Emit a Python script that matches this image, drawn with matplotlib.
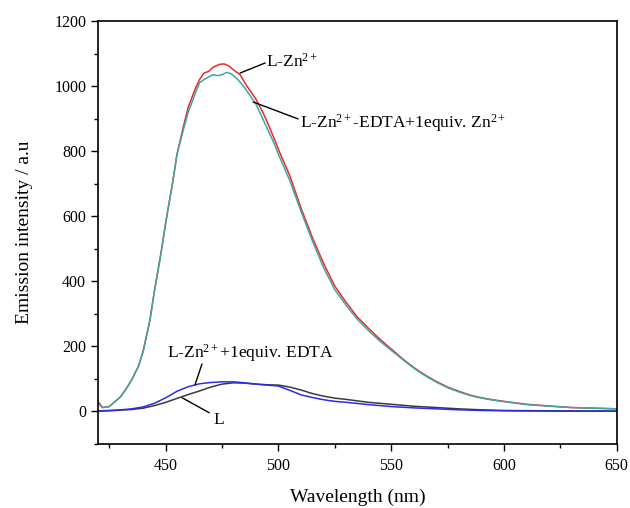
import matplotlib
matplotlib.use("Agg")
import matplotlib.pyplot as plt
from matplotlib.ticker import MultipleLocator

plt.rcParams['font.family'] = ['Liberation Serif', 'DejaVu Serif']
plt.rcParams['mathtext.fontset'] = 'custom'
plt.rcParams['mathtext.rm'] = 'Liberation Serif'
plt.rcParams['mathtext.it'] = 'Liberation Serif:italic'
plt.rcParams['mathtext.bf'] = 'Liberation Serif:bold'

# L-Zn2+ (red)
wl_red = [420, 422, 425, 428, 430, 433, 435, 438, 440, 443, 445, 448, 450, 453, 455, 458,
          460, 463, 465, 467, 469, 471, 474, 476, 478, 480, 483, 486, 490, 493, 495, 498,
          500, 505, 510, 515, 520, 525, 530, 535, 540, 545, 550, 555, 560, 565, 570, 575,
          580, 585, 590, 595, 600, 610, 620, 630, 640, 650]
int_red = [30, 12, 15, 33, 45, 75, 98, 140, 185, 280, 370, 490, 580, 700, 790, 880,
           935, 990, 1020, 1040, 1045, 1058, 1067, 1068, 1062, 1050, 1035, 1000, 960, 920, 890, 840,
           805, 725, 625, 535, 455, 385, 335, 290, 255, 222, 192, 162, 135, 112, 92, 75,
           62, 50, 42, 36, 31, 22, 17, 12, 10, 8]

# L-Zn2+-EDTA+1equiv. Zn2+ (teal)
wl_teal = [420, 422, 425, 428, 430, 433, 435, 438, 440, 443, 445, 448, 450, 453, 455, 458,
           460, 463, 465, 467, 469, 471, 473, 475, 477, 479, 482, 485, 490, 493, 495, 498,
           500, 505, 510, 515, 520, 525, 530, 535, 540, 545, 550, 555, 560, 565, 570, 575,
           580, 585, 590, 595, 600, 610, 620, 630, 640, 650]
int_teal = [25, 12, 15, 33, 45, 75, 98, 140, 185, 280, 370, 490, 580, 700, 790, 870,
            920, 975, 1010, 1020, 1028, 1035, 1032, 1035, 1042, 1038, 1020, 995, 945, 900, 870, 825,
            790, 710, 615, 525, 442, 374, 326, 283, 248, 216, 188, 160, 133, 110, 90, 73,
            60, 49, 41, 35, 30, 21, 16, 12, 10, 8]

# L-Zn2+ + 1equiv. EDTA (blue)
wl_blue = [420, 425, 430, 435, 440, 445, 450, 455, 460, 465, 470, 475, 480, 485, 490, 495,
           500, 505, 510, 515, 520, 525, 530, 540, 550, 560, 570, 580, 590, 600, 620, 650]
int_blue = [2, 3, 5, 8, 14, 25, 42, 62, 76, 85, 89, 91, 91, 88, 84, 81,
            78, 65, 51, 43, 36, 31, 28, 21, 15, 11, 8, 5, 3, 2, 1, 1]

# L (black)
wl_black = [420, 425, 430, 435, 440, 445, 450, 455, 460, 465, 470, 475, 480, 485, 490, 495,
            500, 505, 510, 515, 520, 525, 530, 540, 550, 560, 570, 580, 590, 600, 620, 650]
int_black = [1, 2, 4, 6, 10, 18, 28, 40, 52, 63, 75, 84, 88, 87, 84, 82,
             81, 75, 66, 55, 47, 41, 37, 28, 22, 16, 12, 8, 5, 3, 2, 1]

fig = plt.figure(figsize=(6.3, 5.08), dpi=100)
ax = fig.add_axes([0.1556, 0.126, 0.8234, 0.8327])

ax.plot(wl_black, int_black, color='#3a3a3a', lw=1.1)
ax.plot(wl_blue, int_blue, color='#2a2af0', lw=1.1)
ax.plot(wl_red, int_red, color='#f02828', lw=1.1)
ax.plot(wl_teal, int_teal, color='#3aa8a4', lw=1.1)

ax.set_xlim(420, 650)
ax.set_ylim(-100, 1200)
ax.xaxis.set_major_locator(MultipleLocator(50))
ax.xaxis.set_minor_locator(MultipleLocator(25))
ax.yaxis.set_major_locator(MultipleLocator(200))
ax.yaxis.set_minor_locator(MultipleLocator(100))
ax.tick_params(which='both', direction='out', top=False, right=False, width=1.0,
               labelsize=11.5, colors='black')
ax.tick_params(which='major', length=5)
ax.tick_params(which='minor', length=3)
ax.tick_params(axis='x', pad=5)
for s in ax.spines.values():
    s.set_linewidth(1.2)

ax.set_xlabel('Wavelength (nm)', fontsize=14, labelpad=11)
ax.set_ylabel('Emission intensity / a.u', fontsize=14, labelpad=15)

# labels with leader lines
line_kw = dict(arrowstyle='-', color='black', lw=1.0, shrinkA=0, shrinkB=0)
ax.annotate('', xy=(483.0, 1040), xytext=(494.1, 1071), arrowprops=line_kw)
ax.text(494.5, 1074, r'L-Zn$^{2+}$', fontsize=12.5, va='center', ha='left')

ax.annotate('', xy=(488.8, 951), xytext=(508.7, 899), arrowprops=line_kw)
ax.text(509.6, 887, r'L-Zn$^{2+}$-EDTA+1equiv. Zn$^{2+}$', fontsize=12.5, va='center', ha='left')

ax.annotate('', xy=(463.0, 82), xytext=(466.1, 146), arrowprops=line_kw)
ax.text(450.6, 180, r'L-Zn$^{2+}$+1equiv. EDTA', fontsize=12.5, va='center', ha='left')

ax.annotate('', xy=(457.3, 42), xytext=(469.3, -4), arrowprops=line_kw)
ax.text(471.0, -25, 'L', fontsize=12.5, va='center', ha='left')

fig.savefig('out.png', dpi=100)
